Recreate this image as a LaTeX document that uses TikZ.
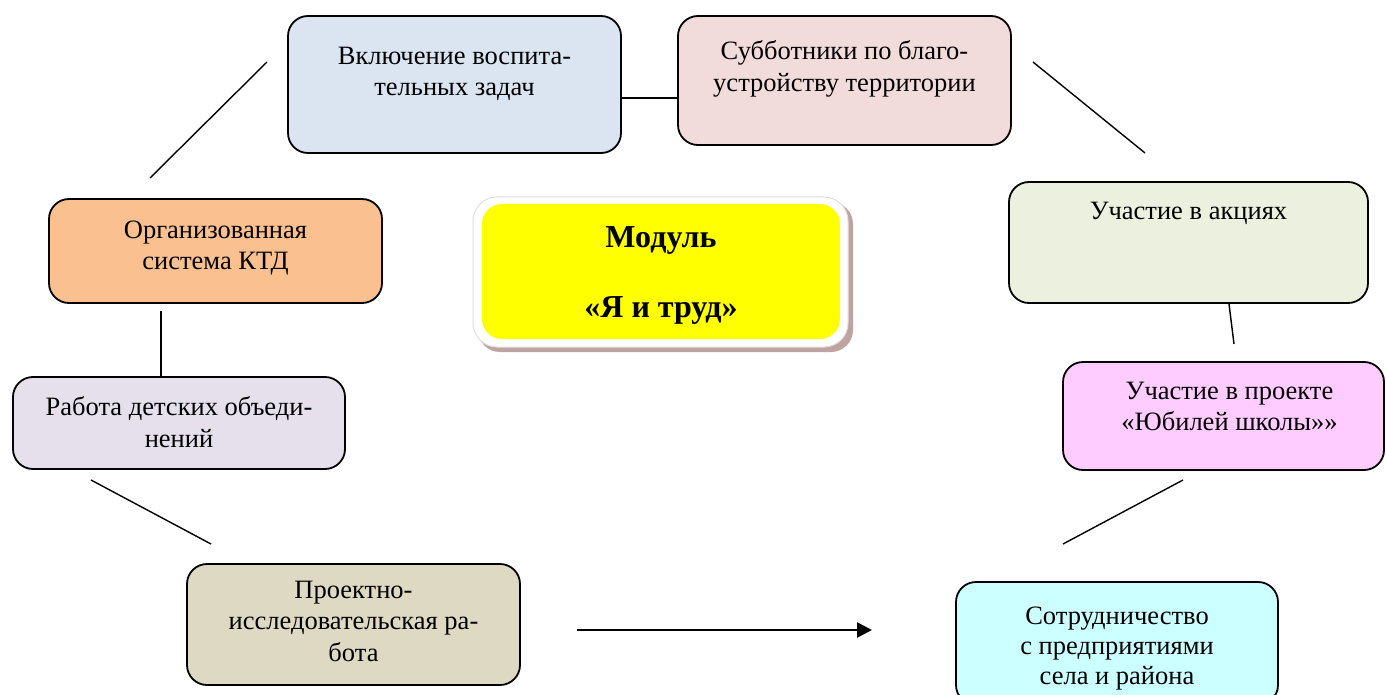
\documentclass[tikz,border=0pt]{standalone}
\usepackage{fontspec}
\setmainfont{Liberation Serif}
\usetikzlibrary{positioning,arrows.meta}
\definecolor{vkl}{HTML}{DBE5F1}
\definecolor{sub}{HTML}{F2DCDB}
\definecolor{ktd}{HTML}{FAC090}
\definecolor{akc}{HTML}{EBF1DE}
\definecolor{obj}{HTML}{E5E0EC}
\definecolor{ubl}{HTML}{FFCCFF}
\definecolor{pro}{HTML}{DDD9C3}
\definecolor{sot}{HTML}{CCFFFF}
\definecolor{ten}{HTML}{BFA2A2}
\definecolor{jelt}{HTML}{FFFF00}
\begin{document}
\begin{tikzpicture}
  [x=1pt,y=-1pt,line width=1.4pt,every node/.style={inner sep=0pt,font=\fontsize{26.5}{31.5}\selectfont}]
  \tikzstyle{blok} = [draw,line width=1.8pt,rounded corners=20pt,shape=rectangle]
  \tikzstyle{txt} = [align=center]
  \useasboundingbox (0,0) rectangle (1386,695);

  % blocks
  \node[blok,fill=vkl,minimum width=333pt,minimum height=137pt] (b1) at (454.5,84.5) {};
  \node[blok,fill=sub,minimum width=333pt,minimum height=129pt] (b2) at (844.5,80.5) {};
  \node[blok,fill=ktd,minimum width=333pt,minimum height=104pt] (b3) at (215.5,251) {};
  \node[blok,fill=akc,minimum width=359pt,minimum height=121pt] (b5) at (1188.5,242.5) {};
  \node[blok,fill=obj,minimum width=332pt,minimum height=92pt] (b6) at (179,423) {};
  \node[blok,fill=ubl,minimum width=321pt,minimum height=108pt] (b7) at (1223.5,416) {};
  \node[blok,fill=pro,minimum width=333pt,minimum height=121pt] (b8) at (353.5,624.5) {};
  \node[blok,fill=sot,minimum width=322pt,minimum height=123pt] (b9) at (1117,643.5) {};

  % module
  \fill[ten,rounded corners=22pt] (478,202) rectangle (853,352);
  \node[shape=rectangle,rounded corners=24pt,fill=white,draw=gray!25,line width=1pt,
        minimum width=375pt,minimum height=150pt] (ramka) at (660.5,272) {};
  \node[shape=rectangle,rounded corners=20pt,fill=jelt,minimum width=358pt,
        minimum height=135pt] (modul) at (661,271.5) {};
  \node[txt,font=\fontsize{32}{38}\selectfont\bfseries,below=23pt of modul.north] (t4)
        {Модуль\\[32pt]«Я и труд»};

  % texts
  \node[txt,below=31pt of b1.north] (t1) {Включение воспита-\\тельных задач};
  \node[txt,below=25pt of b2.north] (t2) {Субботники по благо-\\устройству территории};
  \node[txt,below=22pt of b3.north] (t3) {Организованная\\система КТД};
  \node[txt,below=20pt of b5.north] (t5) {Участие в акциях};
  \node[txt,below=20pt of b6.north] (t6) {Работа детских объеди-\\нений};
  \node[txt,below=20pt of b7.north,xshift=6pt] (t7) {Участие в проекте\\«Юбилей школы»»};
  \node[txt,below=17pt of b8.north] (t8) {Проектно-\\исследовательская ра-\\бота};
  \node[txt,below=25pt of b9.north,font=\fontsize{26.5}{30}\selectfont] (t9) {Сотрудничество\\с предприятиями\\села и района};

  % connectors
  \coordinate (l1a) at (150,178);
  \coordinate (l1b) at (267,62);
  \coordinate (l3a) at (1033,62);
  \coordinate (l3b) at (1145,153);
  \coordinate (l4a) at (1229,304);
  \coordinate (l4b) at (1234,344);
  \coordinate (l5a) at (161,311);
  \coordinate (l6a) at (91,480);
  \coordinate (l6b) at (211,544);
  \coordinate (l7a) at (1183,480);
  \coordinate (l7b) at (1063,544);
  \coordinate (s1) at (577,630);
  \coordinate (s2) at (872,630);

  \foreach \source/\dest in {l1a/l1b,l3a/l3b,l4a/l4b,l6a/l6b,l7a/l7b}
    \draw (\source) -- (\dest);
  \draw ([yshift=-13.5pt]b1.east) -- ([yshift=-13.5pt]b1.east -| b2.west);
  \draw (l5a) -- (l5a |- b6.north);
  \draw[line width=2.6pt,-{Triangle[length=15pt,width=15pt]}] (s1) -- (s2);

\end{tikzpicture}
\end{document}
